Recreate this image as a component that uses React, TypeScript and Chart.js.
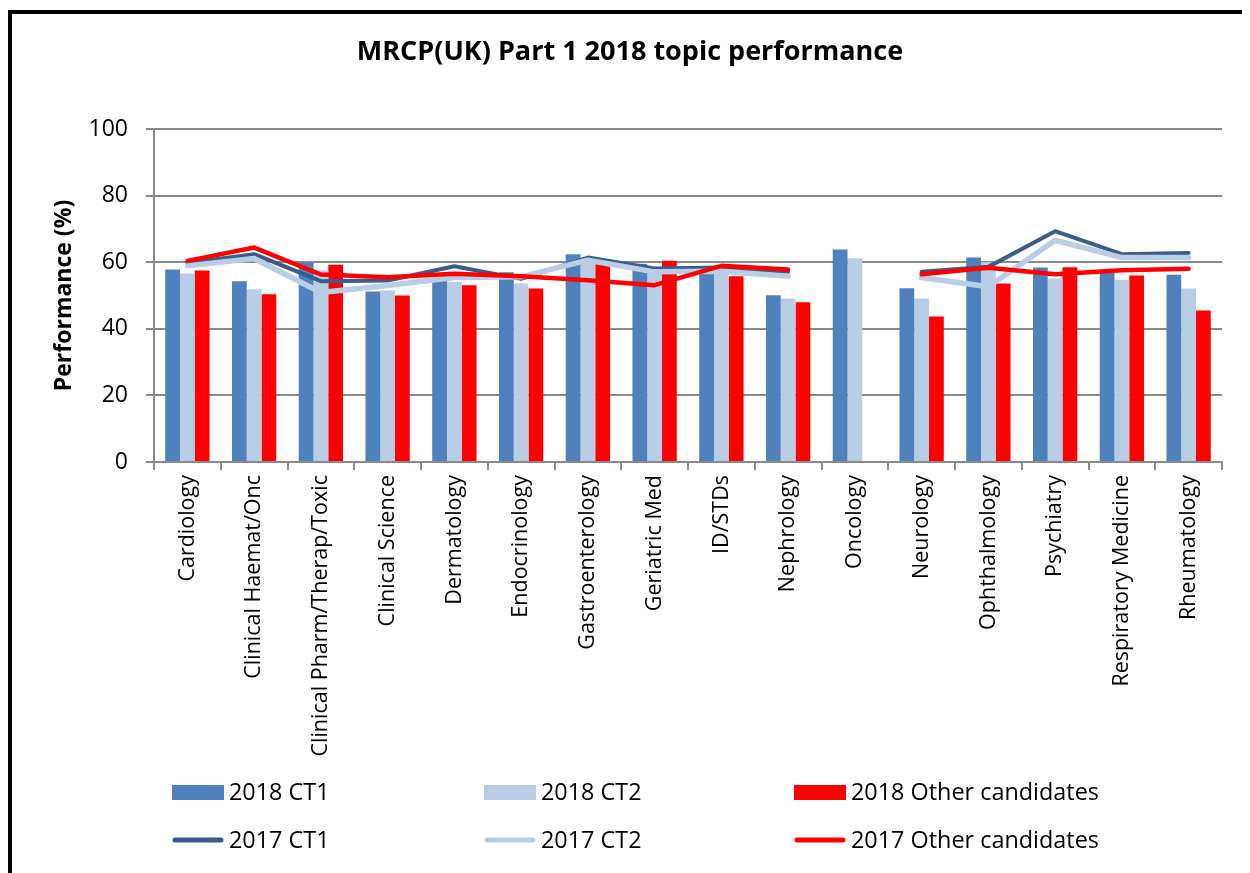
import React, { useEffect, useRef } from "react";
import { Chart, registerables } from "chart.js";

Chart.register(...registerables);

const categories = [
  "Cardiology",
  "Clinical Haemat/Onc",
  "Clinical Pharm/Therap/Toxic",
  "Clinical Science",
  "Dermatology",
  "Endocrinology",
  "Gastroenterology",
  "Geriatric Med",
  "ID/STDs",
  "Nephrology",
  "Oncology",
  "Neurology",
  "Ophthalmology",
  "Psychiatry",
  "Respiratory Medicine",
  "Rheumatology",
];

const ct1_2018 = [57.8, 54.3, 59.9, 51.2, 54.5, 57.0, 62.4, 59.5, 58.6, 50.1, 63.8, 52.2, 61.4, 58.4, 57.5, 56.2];
const ct2_2018 = [56.6, 51.9, 57.6, 51.5, 54.1, 53.6, 61.0, 57.5, 58.0, 49.1, 61.2, 49.1, 60.0, 55.1, 54.7, 52.1];
const other_2018 = [57.5, 50.4, 59.2, 50.0, 53.1, 52.1, 60.6, 60.4, 55.8, 48.0, null, 43.7, 53.6, 58.5, 56.0, 45.5];
const ct1_2017 = [59.8, 62.4, 54.3, 54.5, 58.8, 55.0, 61.4, 58.1, 58.4, 57.1, null, 57.1, 58.6, 69.3, 62.4, 62.8];
const ct2_2017 = [58.9, 61.1, 50.9, 53.0, 55.4, 55.6, 60.6, 57.1, 57.3, 55.8, null, 55.4, 52.6, 66.6, 61.4, 61.4];
const other_2017 = [60.4, 64.4, 56.3, 55.5, 56.5, 55.8, 54.6, 53.1, 58.9, 57.8, null, 56.4, 58.3, 56.4, 57.6, 58.0];

const yTicks = [0, 20, 40, 60, 80, 100];

const FONT = "'Open Sans', sans-serif";
const GRID = "#8a8a8a";
const DARK = "#4F81BD";
const LIGHT = "#B9CDE5";
const RED = "#FF0000";
const NAVY = "#385D8A";

const columnLegend = {
  id: "columnLegend",
  afterDraw(chart: any) {
    const ctx = chart.ctx;
    const cols = [160, 472, 782];
    const rows = [778, 826];
    chart.data.datasets.forEach((ds: any, i: number) => {
      const x = cols[i % 3];
      const y = rows[Math.floor(i / 3)];
      ctx.save();
      if (ds.type === "bar") {
        ctx.fillStyle = ds.backgroundColor;
        ctx.fillRect(x, y - 7, 52, 15);
      } else {
        ctx.strokeStyle = ds.borderColor;
        ctx.lineWidth = 5;
        ctx.lineCap = "round";
        ctx.beginPath();
        ctx.moveTo(x + 3, y);
        ctx.lineTo(x + 49, y);
        ctx.stroke();
      }
      ctx.fillStyle = "#000";
      ctx.font = `23.4px ${FONT}`;
      ctx.textBaseline = "middle";
      ctx.textAlign = "left";
      ctx.fillText(ds.label, x + 57, y + 1);
      ctx.restore();
    });
  },
};

export default function App() {
  const ref = useRef<HTMLCanvasElement | null>(null);

  useEffect(() => {
    if (!ref.current) return;
    const chart = new Chart(ref.current, {
      type: "bar",
      data: {
        labels: categories,
        datasets: [
          { type: "bar", label: "2018 CT1", data: ct1_2018, backgroundColor: DARK, order: 10, categoryPercentage: 0.664, barPercentage: 1 },
          { type: "bar", label: "2018 CT2", data: ct2_2018, backgroundColor: LIGHT, order: 10, categoryPercentage: 0.664, barPercentage: 1 },
          { type: "bar", label: "2018 Other candidates", data: other_2018, backgroundColor: RED, order: 10, categoryPercentage: 0.664, barPercentage: 1 },
          { type: "line", label: "2017 CT1", data: ct1_2017, borderColor: NAVY, backgroundColor: NAVY, borderWidth: 4, pointRadius: 0, spanGaps: false, order: 3, borderCapStyle: "round", borderJoinStyle: "round" },
          { type: "line", label: "2017 CT2", data: ct2_2017, borderColor: LIGHT, backgroundColor: LIGHT, borderWidth: 5.5, pointRadius: 0, spanGaps: false, order: 2, borderCapStyle: "round", borderJoinStyle: "round" },
          { type: "line", label: "2017 Other candidates", data: other_2017, borderColor: RED, backgroundColor: RED, borderWidth: 4.5, pointRadius: 0, spanGaps: false, order: 1, borderCapStyle: "round", borderJoinStyle: "round" },
        ] as any,
      },
      options: {
        animation: false,
        responsive: false,
        maintainAspectRatio: false,
        layout: { padding: { left: 26, right: 24, top: 0, bottom: 112 } },
        plugins: {
          legend: { display: false },
          tooltip: { enabled: false },
          title: {
            display: true,
            text: "MRCP(UK) Part 1 2018 topic performance",
            color: "#000",
            font: { family: FONT, size: 27, weight: "bold" },
            padding: { top: 22, bottom: 60.6 },
          },
        },
        scales: {
          x: {
            grid: { drawOnChartArea: false, offset: true, tickLength: 8, color: GRID, lineWidth: 2 },
            border: { color: GRID, width: 2 },
            ticks: { minRotation: 90, maxRotation: 90, autoSkip: false, padding: 5, color: "#000", font: { family: FONT, size: 21.5 } },
            afterFit: (s: any) => { s.height = 300; },
          },
          y: {
            min: 0,
            max: 100,
            afterBuildTicks: (s: any) => { s.ticks = yTicks.map((v) => ({ value: v })); },
            ticks: { padding: 18, color: "#000", font: { family: FONT, size: 23 } },
            grid: { color: GRID, lineWidth: 2, tickLength: 8 },
            border: { color: GRID, width: 2 },
            title: {
              display: true,
              text: "Performance (%)",
              color: "#000",
              font: { family: FONT, size: 23, weight: "bold" },
              padding: { top: 13, bottom: 0 },
            },
            afterFit: (s: any) => { s.width = 116; },
          },
        },
      } as any,
      plugins: [columnLegend],
    });
    return () => chart.destroy();
  }, []);

  return (
    <div
      style={{
        position: "relative",
        top: 2,
        width: 1242,
        height: 880,
        boxSizing: "border-box",
        border: "4px solid #000",
        background: "#fff",
      }}
    >
      <canvas ref={ref} width={1234} height={860} style={{ display: "block" }} />
    </div>
  );
}
